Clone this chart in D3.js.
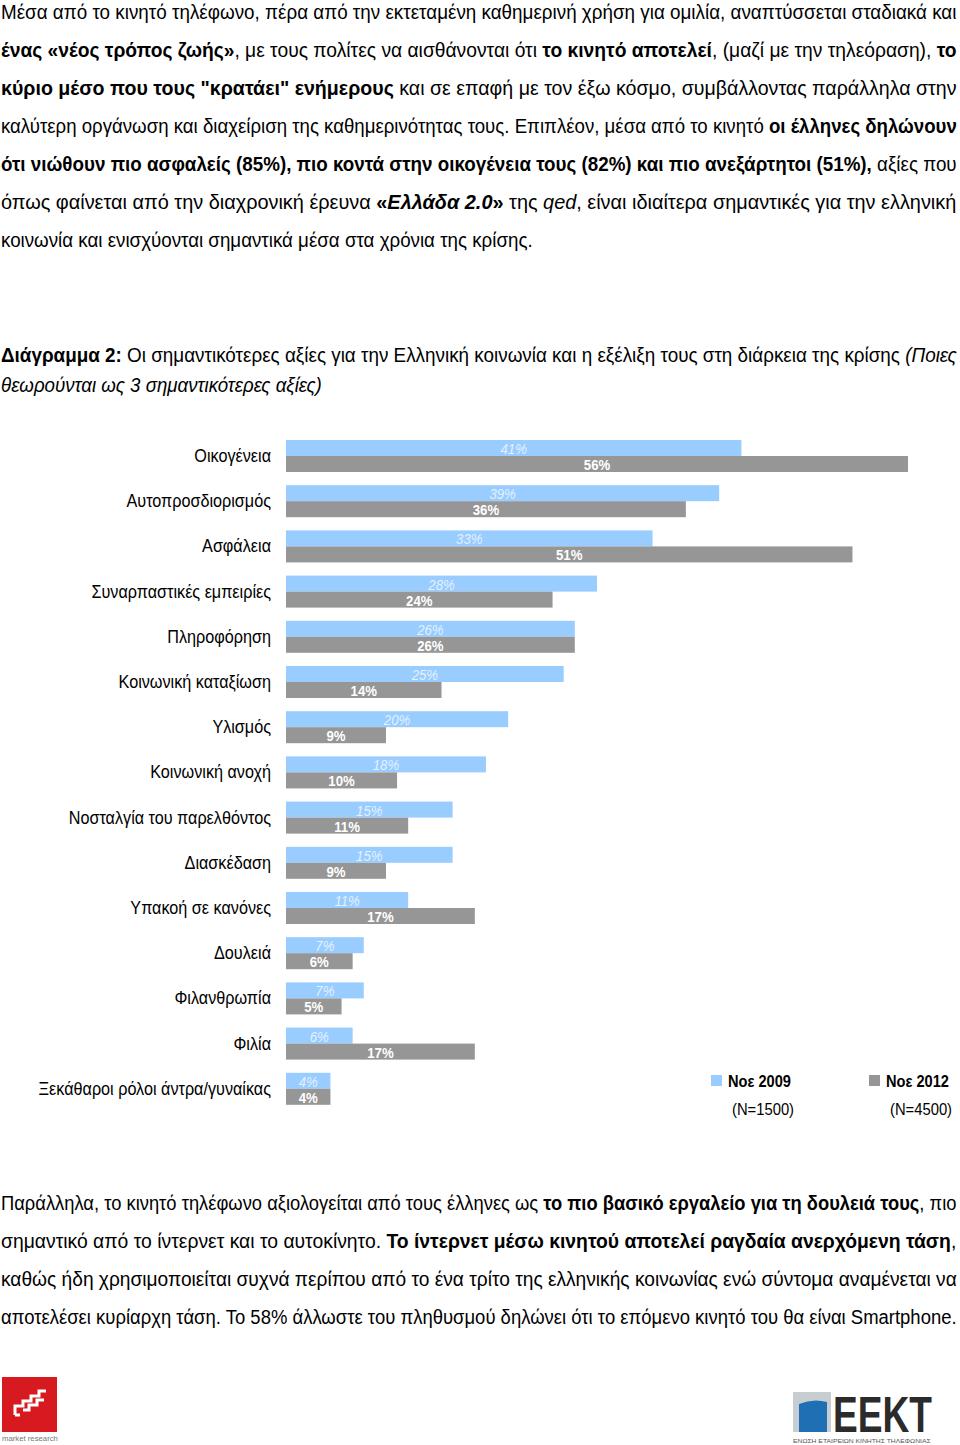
<!DOCTYPE html>
<html>
<head>
<meta charset="utf-8">
<script src="https://cdn.jsdelivr.net/npm/d3@7"></script>
<style>
  body { margin: 0; background: #fff; }
  svg { display: block; }
</style>
</head>
<body>
<svg id="chart"></svg>
<script>
// chart data
const categories = [
  "Οικογένεια", "Αυτοπροσδιορισμός", "Ασφάλεια", "Συναρπαστικές εμπειρίες",
  "Πληροφόρηση", "Κοινωνική καταξίωση", "Υλισμός", "Κοινωνική ανοχή",
  "Νοσταλγία του παρελθόντος", "Διασκέδαση", "Υπακοή σε κανόνες", "Δουλειά",
  "Φιλανθρωπία", "Φιλία", "Ξεκάθαροι ρόλοι άντρα/γυναίκας"
];
const values2009 = [41, 39, 33, 28, 26, 25, 20, 18, 15, 15, 11, 7, 7, 6, 4];
const values2012 = [56, 36, 51, 24, 26, 14, 9, 10, 11, 9, 17, 6, 5, 17, 4];
const seriesKeys = ["2009", "2012"];
const seriesNames = ["Νοε 2009", "Νοε 2012"];
const sampleSizes = ["(N=1500)", "(N=4500)"];

const W = 960, H = 1445;
const narrow = "'Liberation Sans Narrow','Arial Narrow','Liberation Sans',Arial,sans-serif";
const regular = "'Liberation Sans',Arial,sans-serif";
const colors = { "2009": "#99ccff", "2012": "#969696" };
const squeeze = 0.88; // the source uses a condensed face

const svg = d3.select("#chart").attr("width", W).attr("height", H);

// --- justified text lines (each line fitted to its width like the source document)
function textLine(segs, y, width, size) {
  const t = svg.append("text")
    .attr("x", 0).attr("y", 0)
    .attr("font-family", narrow)
    .attr("font-size", size)
    .attr("fill", "#000")
    .style("white-space", "pre");
  segs.forEach(s => {
    t.append("tspan")
      .text(s[0])
      .attr("font-weight", s[1] && s[1].includes("b") ? "bold" : null)
      .attr("font-style", s[1] && s[1].includes("i") ? "italic" : null);
  });
  const full = segs.map(s => s[0]).join("");
  const spaces = full.split(" ").length - 1;
  const len = t.node().getComputedTextLength();
  if (len > width) {
    t.attr("transform", `translate(1,${y}) scale(${width / len},1)`);
  } else {
    t.attr("transform", `translate(1,${y})`)
      .style("word-spacing", spaces ? ((width - len) / spaces) + "px" : null);
  }
}

// squeeze a single text horizontally to a given width
function fitWidth(t, x0, y0, width) {
  const len = t.node().getComputedTextLength();
  t.attr("transform", `translate(${x0},${y0}) scale(${width / len},1)`);
}

const para1 = [
  [[["Μέσα από το κινητό τηλέφωνο, πέρα από την εκτεταμένη καθημερινή χρήση για ομιλία, αναπτύσσεται σταδιακά και"]], 956],
  [[["ένας «νέος τρόπος ζωής»", "b"], [", με τους πολίτες να αισθάνονται ότι "], ["το κινητό αποτελεί", "b"], [", (μαζί με την τηλεόραση), "], ["το", "b"]], 956],
  [[["κύριο μέσο που τους \"κρατάει\" ενήμερους", "b"], [" και σε επαφή με τον έξω κόσμο, συμβάλλοντας παράλληλα στην"]], 956],
  [[["καλύτερη οργάνωση και διαχείριση της καθημερινότητας τους. Επιπλέον, μέσα από το κινητό "], ["οι έλληνες δηλώνουν", "b"]], 956],
  [[["ότι νιώθουν πιο ασφαλείς (85%), πιο κοντά στην οικογένεια τους (82%) και πιο ανεξάρτητοι (51%),", "b"], [" αξίες που"]], 956],
  [[["όπως φαίνεται από την διαχρονική έρευνα "], ["«", "b"], ["Ελλάδα 2.0", "bi"], ["»", "b"], [" της "], ["qed", "i"], [", είναι ιδιαίτερα σημαντικές για την ελληνική"]], 956],
  [[["κοινωνία και ενισχύονται σημαντικά μέσα στα χρόνια της κρίσης."]], 532]
];
para1.forEach((l, i) => textLine(l[0], 19 + i * 38, l[1], 20));

const titleLines = [
  [[["Διάγραμμα 2:", "b"], [" Οι σημαντικότερες αξίες για την Ελληνική κοινωνία και η εξέλιξη τους στη διάρκεια της κρίσης "], ["(Ποιες", "i"]], 956],
  [[["θεωρούνται ως 3 σημαντικότερες αξίες)", "i"]], 321]
];
titleLines.forEach((l, i) => textLine(l[0], 362 + i * 30, l[1], 20));

const para2 = [
  [[["Παράλληλα, το κινητό τηλέφωνο αξιολογείται από τους έλληνες ως "], ["το πιο βασικό εργαλείο για τη δουλειά τους", "b"], [", πιο"]], 956],
  [[["σημαντικό από το ίντερνετ και το αυτοκίνητο. "], ["Το ίντερνετ μέσω κινητού αποτελεί ραγδαία ανερχόμενη τάση", "b"], [","]], 956],
  [[["καθώς ήδη χρησιμοποιείται συχνά περίπου από το ένα τρίτο της ελληνικής κοινωνίας ενώ σύντομα αναμένεται να"]], 956],
  [[["αποτελέσει κυρίαρχη τάση. Το 58% άλλωστε του πληθυσμού δηλώνει ότι το επόμενο κινητό του θα είναι Smartphone."]], 956]
];
para2.forEach((l, i) => textLine(l[0], 1210 + i * 38, l[1], 20));

// --- bar chart
const x = d3.scaleLinear()
  .domain([0, d3.max(values2009.concat(values2012))])
  .range([286, 908]);

const y = d3.scaleBand()
  .domain(categories)
  .range([440, 1104.8])
  .paddingInner(0.292);

const ySub = d3.scaleBand()
  .domain(seriesKeys)
  .range([0, y.bandwidth()]);

const rows = categories.map((c, i) => ({ cat: c, vals: [values2009[i], values2012[i]] }));

const chart = svg.append("g");

const row = chart.selectAll(".row")
  .data(rows)
  .enter().append("g")
  .attr("class", "row")
  .attr("transform", d => `translate(0,${y(d.cat)})`);

row.append("text")
  .attr("transform", `translate(271,${y.bandwidth() / 2 + 6}) scale(0.9,1)`)
  .attr("text-anchor", "end")
  .attr("font-family", regular)
  .attr("font-size", 18)
  .attr("fill", "#000")
  .text(d => d.cat);

const bar = row.selectAll(".bar")
  .data(d => d.vals.map((v, j) => ({ key: seriesKeys[j], v })))
  .enter().append("g")
  .attr("class", "bar");

bar.append("rect")
  .attr("x", x(0))
  .attr("y", d => ySub(d.key))
  .attr("width", d => x(d.v) - x(0))
  .attr("height", ySub.bandwidth())
  .attr("fill", d => colors[d.key]);

bar.append("text")
  .attr("transform", d => `translate(${(x(0) + x(d.v)) / 2},${ySub(d.key) + 14}) scale(${squeeze},1)`)
  .attr("text-anchor", "middle")
  .attr("font-family", narrow)
  .attr("font-size", 15)
  .attr("font-weight", d => d.key === "2012" ? "bold" : null)
  .attr("font-style", d => d.key === "2009" ? "italic" : null)
  .attr("fill", d => d.key === "2009" ? "#e4f1ff" : "#fff")
  .text(d => d.v + "%");

// --- legend
const legend = svg.selectAll(".legend")
  .data(seriesKeys)
  .enter().append("g")
  .attr("class", "legend")
  .attr("transform", (d, i) => `translate(${711 + i * 158},1075)`);

legend.append("rect")
  .attr("width", 11).attr("height", 11)
  .attr("fill", d => colors[d]);

legend.append("text")
  .attr("transform", `translate(17,12) scale(0.86,1)`)
  .attr("font-family", narrow)
  .attr("font-size", 17)
  .attr("font-weight", "bold")
  .text((d, i) => seriesNames[i]);

legend.append("text")
  .attr("transform", `translate(21,40) scale(0.87,1)`)
  .attr("font-family", narrow)
  .attr("font-size", 17)
  .text((d, i) => sampleSizes[i]);

// --- logos
const qed = svg.append("g").attr("transform", "translate(2,1377)");
qed.append("rect").attr("width", 55).attr("height", 55).attr("fill", "#d71920");
qed.append("path")
  .attr("d", "M13 38 v-9 h8 v-5 h8 v-5 h8 v-5 h7 M13 38 h5 M21 33 h6 v-5 h8 v-5 h7")
  .attr("fill", "none").attr("stroke", "#fff").attr("stroke-width", 3);
const mr = qed.append("text")
  .attr("font-family", regular)
  .attr("font-size", 8)
  .attr("fill", "#777")
  .text("market research");
fitWidth(mr, 0, 64, 56);

const eekt = svg.append("g").attr("transform", "translate(793,1392)");
eekt.append("rect").attr("width", 38).attr("height", 40).attr("fill", "#c8cdd2");
eekt.append("path").attr("d", "M6 12 Q20 6 34 10 V40 H6 Z").attr("fill", "#1f6fb5");
const brand = eekt.append("text")
  .attr("font-family", regular)
  .attr("font-size", 50)
  .attr("font-weight", "bold")
  .attr("fill", "#2b2b2b")
  .text("ΕΕΚΤ");
fitWidth(brand, 40, 40, 99);
const union = eekt.append("text")
  .attr("font-family", regular)
  .attr("font-size", 5)
  .attr("fill", "#555")
  .text("ΕΝΩΣΗ ΕΤΑΙΡΕΙΩΝ ΚΙΝΗΤΗΣ ΤΗΛΕΦΩΝΙΑΣ");
fitWidth(union, 0, 51, 138);
</script>
</body>
</html>
